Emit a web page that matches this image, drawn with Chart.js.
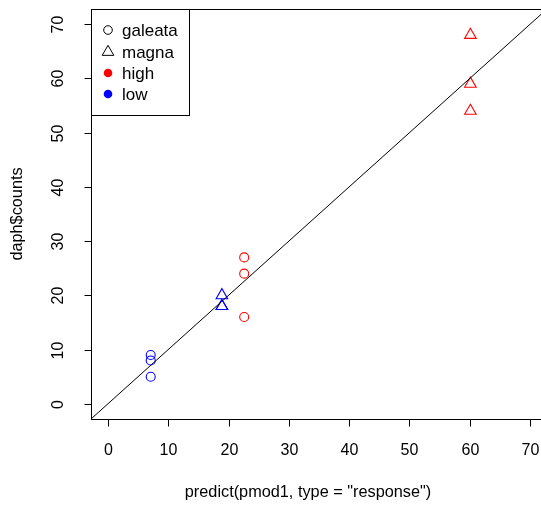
<!DOCTYPE html>
<html>
<head>
<meta charset="utf-8">
<script src="https://cdn.jsdelivr.net/npm/chart.js@4.4.0/dist/chart.umd.min.js"></script>
<style>
    html, body { margin: 0; padding: 0; background: #fff; overflow: hidden; }
    canvas { display: block; }
</style>
</head>
<body>
<canvas id="daphPlot" width="560" height="505"></canvas>
<script>
// Fitted values (x) and observed counts (y) per species / food level
const galeataLowX = [7.1, 7.1, 7.1];
const galeataLowY = [9, 8, 5];
const magnaLowX = [18.9, 18.9, 18.9];
const magnaLowY = [20, 18, 18];
const galeataHighX = [22.6, 22.6, 22.6];
const galeataHighY = [27, 24, 16];
const magnaHighX = [60.1, 60.1, 60.1];
const magnaHighY = [68, 59, 54];

// axis limits (R xlim/ylim 0..70 plus 4%) and tick labels
const axisMin = -2.8;
const axisMax = 72.8;
const tickValues = [0, 10, 20, 30, 40, 50, 60, 70];

const legendLabels = ['galeata', 'magna', 'high', 'low'];

const RED = '#ff0000';
const BLUE = '#0000ff';
const FONT = '16px "Liberation Sans", Arial, sans-serif';
const TITLE_FONT = '16.3px "Liberation Sans", Arial, sans-serif';
const LEGEND_FONT = '17px "Liberation Sans", Arial, sans-serif';

function toPoints(xs, ys) {
    return xs.map((x, i) => ({ x: x, y: ys[i] }));
}

// 1:1 reference line, y = x across the axis range
const refLine = [axisMin, axisMax].map(v => ({ x: v, y: v }));

/**
 * R-style box, ticks, labels, titles and legend
 */
const rAxesPlugin = {
    id: 'rAxes',
    afterDraw(chart) {
        const ctx = chart.ctx;
        const area = chart.chartArea;
        const xs = chart.scales.x;
        const ys = chart.scales.y;

        ctx.save();
        ctx.strokeStyle = '#000';
        ctx.lineWidth = 1;
        ctx.strokeRect(Math.round(area.left) + 0.5, Math.round(area.top) + 0.5,
            Math.round(area.right - area.left), Math.round(area.bottom - area.top));

        ctx.fillStyle = '#000';
        ctx.font = FONT;

        // x ticks
        const xb = Math.round(area.bottom) + 0.5;
        ctx.textAlign = 'center';
        ctx.textBaseline = 'middle';
        tickValues.forEach(v => {
            const px = Math.round(xs.getPixelForValue(v)) + 0.5;
            ctx.beginPath();
            ctx.moveTo(px, xb);
            ctx.lineTo(px, xb + 7);
            ctx.stroke();
            ctx.fillText(String(v), px, 451);
        });

        // y ticks (labels rotated like R las=0)
        const yl = Math.round(area.left) + 0.5;
        tickValues.forEach(v => {
            const py = Math.round(ys.getPixelForValue(v)) + 0.5;
            ctx.beginPath();
            ctx.moveTo(yl, py);
            ctx.lineTo(yl - 7, py);
            ctx.stroke();
            ctx.save();
            ctx.translate(59, py);
            ctx.rotate(-Math.PI / 2);
            ctx.fillText(String(v), 0, 0);
            ctx.restore();
        });

        // axis titles
        ctx.font = TITLE_FONT;
        ctx.fillText('predict(pmod1, type = "response")', 308, 493);
        ctx.save();
        ctx.translate(18, (area.top + area.bottom) / 2);
        ctx.rotate(-Math.PI / 2);
        ctx.fillText('daph$counts', 0, 0);
        ctx.restore();

        // legend box in the top-left corner
        const lx = Math.round(area.left) + 0.5;
        const ly = Math.round(area.top) + 0.5;
        ctx.fillStyle = '#fff';
        ctx.fillRect(lx, ly, 98, 106);
        ctx.strokeRect(lx, ly, 98, 106);

        const rowY = [30, 52, 73, 94];
        const symX = 108;
        ctx.font = LEGEND_FONT;
        ctx.textAlign = 'left';
        legendLabels.forEach((label, i) => {
            const y = rowY[i];
            ctx.beginPath();
            if (i === 0) {
                ctx.strokeStyle = '#000';
                ctx.arc(symX, y, 4.3, 0, Math.PI * 2);
                ctx.stroke();
            } else if (i === 1) {
                const r = 6.7;
                ctx.strokeStyle = '#000';
                ctx.moveTo(symX, y - r);
                ctx.lineTo(symX + r * Math.sqrt(3) / 2, y + r / 2);
                ctx.lineTo(symX - r * Math.sqrt(3) / 2, y + r / 2);
                ctx.closePath();
                ctx.stroke();
            } else {
                ctx.fillStyle = i === 2 ? RED : BLUE;
                ctx.arc(symX, y, 4.3, 0, Math.PI * 2);
                ctx.fill();
            }
            ctx.fillStyle = '#000';
            ctx.fillText(label, 122, y + 1);
        });
        ctx.restore();
    }
};

function pointSet(label, data, color, style) {
    return {
        type: 'scatter',
        label: label,
        data: data,
        pointStyle: style,
        pointRadius: style === 'triangle' ? 6.7 : 4.5,
        pointBorderWidth: 1.1,
        borderColor: color,
        backgroundColor: 'rgba(0,0,0,0)',
        pointHoverRadius: style === 'triangle' ? 6.7 : 4.5
    };
}

const chart = new Chart(document.getElementById('daphPlot').getContext('2d'), {
    type: 'scatter',
    data: {
        datasets: [
            {
                type: 'line',
                label: '1:1',
                data: refLine,
                borderColor: '#000',
                borderWidth: 1,
                pointRadius: 0,
                fill: false
            },
            pointSet('galeata low', toPoints(galeataLowX, galeataLowY), BLUE, 'circle'),
            pointSet('magna low', toPoints(magnaLowX, magnaLowY), BLUE, 'triangle'),
            pointSet('galeata high', toPoints(galeataHighX, galeataHighY), RED, 'circle'),
            pointSet('magna high', toPoints(magnaHighX, magnaHighY), RED, 'triangle')
        ]
    },
    options: {
        responsive: false,
        animation: false,
        layout: {
            padding: { left: 91, top: 9, right: 13, bottom: 86 }
        },
        scales: {
            x: { type: 'linear', min: axisMin, max: axisMax, display: false },
            y: { type: 'linear', min: axisMin, max: axisMax, display: false }
        },
        plugins: {
            legend: { display: false },
            tooltip: { enabled: false }
        }
    },
    plugins: [rAxesPlugin]
});
</script>
</body>
</html>
